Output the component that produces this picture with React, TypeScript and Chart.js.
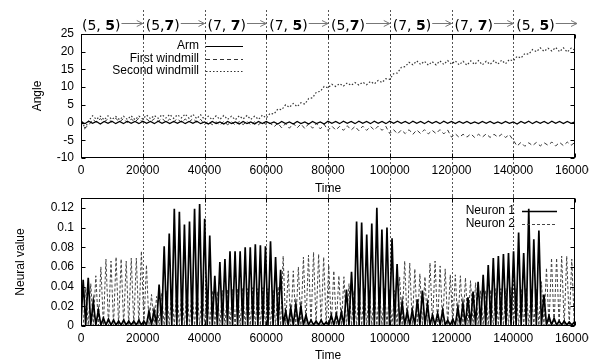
import React, { useEffect, useRef } from "react";
import { Chart, registerables } from "chart.js";
Chart.register(...registerables);

// ---------- Top panel: angles (sampled every TIME_STEP) ----------
const TIME_STEP = 1250;
const ARM = [
  0.2, -0.3, 0.4, -0.2, 0.3, -0.4, 0.3, -0.2, 0.4, -0.3, 0.3, -0.3, 0.4, -0.2, 0.3, -0.3,
  0.4, -0.2, 0.3, -0.3, 0.4, -0.2, 0.3, -0.3, 0.3, -0.2, 0.4, -0.3, 0.3, -0.2, 0.4, -0.3,
  0.2, -0.4, 0.3, -0.3, 0.2, -0.4, 0.3, -0.3, 0.2, -0.4, 0.3, -0.3, 0.2, -0.4, 0.3, -0.3,
  0.3, -0.3, 0.2, -0.4, 0.3, -0.3, 0.2, -0.4, 0.3, -0.3, 0.2, -0.4, 0.3, -0.3, 0.2, -0.4,
  0.4, -0.2, 0.3, -0.3, 0.4, -0.2, 0.3, -0.3, 0.4, -0.2, 0.3, -0.3, 0.4, -0.2, 0.3, -0.3,
  0.4, -0.2, 0.4, -0.2, 0.3, -0.3, 0.4, -0.2, 0.3, -0.3, 0.4, -0.2, 0.3, -0.3, 0.4, -0.2,
  0.3, -0.3, 0.3, -0.2, 0.3, -0.3, 0.2, -0.3, 0.3, -0.2, 0.3, -0.3, 0.2, -0.3, 0.3, -0.2,
  0.2, -0.4, 0.3, -0.2, 0.4, -0.3, 0.3, -0.2, 0.3, -0.3, 0.4, -0.2, 0.3, -0.3, 0.3, -0.2,
  0.2,
];
const FIRST_WINDMILL = [
  0.5, -1.5, -0.8, 0.9, 0.1, 1.1, 0.2, 1.0, 0.1, 1.2, 0.2, 1.1, 0.0, 1.0, 0.2, 1.2,
  0.1, 1.0, 0.2, 1.1, 0.3, 1.2, 0.1, 1.0, 0.2, 1.1, 0.0, 1.0, 0.2, 1.1, 0.1, 0.9,
  -0.5, 0.3, -0.6, 0.2, -0.7, 0.3, -0.6, 0.2, -0.7, 0.3, -0.6, 0.4, -0.7, 0.2, -0.6, 0.3,
  -0.6, -0.1, -1.2, -0.2, -1.5, -0.3, -1.6, -0.2, -1.5, -0.4, -1.7, -0.3, -1.6, -0.2, -1.8, -0.5,
  -2.2, -1.0, -2.1, -1.1, -2.2, -0.9, -2.1, -1.1, -2.3, -1.0, -2.2, -1.1, -2.1, -1.0, -2.2, -1.1,
  -3.1, -2.0, -3.2, -2.1, -3.1, -2.0, -3.3, -2.1, -3.1, -2.0, -3.2, -2.2, -3.1, -2.0, -3.2, -2.1,
  -4.1, -3.2, -4.2, -3.3, -4.1, -3.2, -4.2, -3.3, -4.1, -3.2, -4.2, -3.3, -4.1, -3.3, -4.2, -3.4,
  -5.0, -6.6, -5.6, -6.7, -5.7, -6.5, -5.6, -6.6, -5.7, -6.4, -5.5, -6.6, -5.6, -6.5, -5.5, -6.4,
  -5.6,
];
const SECOND_WINDMILL = [
  1.2, -1.6, 0.5, 1.9, 0.9, 1.8, 0.8, 1.9, 0.9, 1.7, 0.8, 1.8, 0.9, 1.9, 0.8, 1.8,
  1.0, 2.1, 1.1, 2.0, 1.2, 2.2, 1.3, 2.3, 1.2, 2.2, 1.3, 2.4, 1.2, 2.3, 1.1, 2.2,
  0.9, 1.8, 0.8, 1.9, 0.9, 2.0, 0.9, 1.8, 0.8, 1.9, 1.0, 2.0, 0.9, 1.8, 0.9, 2.1,
  1.3, 2.6, 2.4, 3.8, 3.6, 5.0, 4.3, 5.4, 4.5, 5.6, 5.2, 6.8, 7.0, 8.6, 8.8, 10.2,
  9.8, 10.8, 10.2, 11.0, 10.3, 11.2, 10.5, 11.3, 10.6, 11.4, 10.7, 11.6, 10.9, 11.9, 11.3, 12.4,
  12.2, 13.8, 14.0, 15.6, 15.8, 17.0, 16.3, 17.4, 16.4, 17.3, 16.2, 17.2, 16.3, 17.4, 16.4, 17.5,
  16.5, 17.4, 16.3, 17.3, 16.2, 17.4, 16.4, 17.5, 16.3, 17.3, 16.4, 17.5, 16.5, 17.6, 16.6, 17.8,
  17.4, 18.7, 18.2, 19.5, 19.3, 20.6, 20.0, 21.1, 20.1, 21.0, 20.2, 21.2, 20.0, 21.1, 19.9, 21.0,
  20.4,
];

// phase boundaries and labels shown above the top panel
const PHASE_BOUNDARIES = [20000, 40000, 60000, 80000, 100000, 120000, 140000];
const PHASE_LABELS: [string, string, string][] = [
  ["5", ", ", "5"], ["5", ",", "7"], ["7", ", ", "7"], ["7", ", ", "5"],
  ["5", ",", "7"], ["7", ", ", "5"], ["7", ", ", "7"], ["5", ", ", "5"],
];

// ---------- Bottom panel: neural spikes ----------
const SPIKE_T0 = 700;
const SPIKE_PERIOD = 1640;
const NEURON1_PEAKS = [
  0.047, 0.049, 0.025, 0.016, 0.008, 0.007, 0.006, 0.005, 0.006, 0.005,
  0.005, 0.006, 0.005, 0.015, 0.016, 0.042, 0.081, 0.094, 0.119, 0.116,
  0.103, 0.106, 0.119, 0.124, 0.109, 0.092, 0.051, 0.065, 0.068, 0.076,
  0.076, 0.076, 0.080, 0.080, 0.083, 0.082, 0.081, 0.086, 0.070, 0.057,
  0.015, 0.018, 0.022, 0.020, 0.011, 0.006, 0.005, 0.006, 0.004, 0.011,
  0.012, 0.014, 0.037, 0.055, 0.106, 0.105, 0.093, 0.104, 0.120, 0.098,
  0.100, 0.089, 0.063, 0.024, 0.015, 0.016, 0.027, 0.036, 0.022, 0.011,
  0.013, 0.016, 0.006, 0.007, 0.019, 0.023, 0.029, 0.035, 0.045, 0.052,
  0.062, 0.069, 0.071, 0.073, 0.074, 0.076, 0.095, 0.074, 0.119, 0.088,
  0.097, 0.032, 0.010, 0.008, 0.005, 0.005, 0.004, 0.004,
];
const NEURON2_PEAKS = [
  0.039, 0.043, 0.051, 0.060, 0.068, 0.066, 0.070, 0.068, 0.066, 0.069,
  0.069, 0.076, 0.062, 0.032, 0.030, 0.033, 0.036, 0.037, 0.038, 0.037,
  0.038, 0.037, 0.038, 0.038, 0.037, 0.036, 0.035, 0.036, 0.037, 0.037,
  0.038, 0.038, 0.038, 0.039, 0.038, 0.039, 0.038, 0.037, 0.040, 0.071,
  0.056, 0.056, 0.060, 0.070, 0.072, 0.075, 0.073, 0.070, 0.062, 0.056,
  0.051, 0.050, 0.043, 0.036, 0.038, 0.038, 0.037, 0.038, 0.039, 0.038,
  0.037, 0.036, 0.050, 0.066, 0.064, 0.058, 0.053, 0.050, 0.064, 0.066,
  0.061, 0.058, 0.052, 0.052, 0.051, 0.049, 0.046, 0.044, 0.036, 0.036,
  0.037, 0.038, 0.038, 0.038, 0.039, 0.038, 0.038, 0.039, 0.038, 0.037,
  0.045, 0.059, 0.069, 0.069, 0.071, 0.071, 0.068, 0.066,
];
const NEURON1_FLOOR = 0.001;
const NEURON2_FLOOR = 0.0005;

const FONT = "'Liberation Sans', Arial, Helvetica, sans-serif";
Chart.defaults.font.family = FONT;
Chart.defaults.font.size = 12;
Chart.defaults.color = "#000";

const STYLE = {
  arm: { color: "#000", width: 1.2, dash: [] as number[] },
  first: { color: "#333", width: 1, dash: [4, 3] },
  second: { color: "#333", width: 1.2, dash: [1.5, 2] },
  n1: { color: "#000", width: 1.7, dash: [] as number[] },
  n2: { color: "#444", width: 1, dash: [3, 2] },
};

function drawFrame(chart: any, tickLen: number) {
  const { ctx, chartArea: a, scales } = chart;
  ctx.save();
  ctx.strokeStyle = "#000";
  ctx.lineWidth = 1;
  ctx.setLineDash([]);
  const L = Math.round(a.left) + 0.5, R = Math.round(a.right) - 0.5;
  const T = Math.round(a.top) + 0.5, B = Math.round(a.bottom) - 0.5;
  ctx.strokeRect(L, T, R - L, B - T);
  ctx.beginPath();
  for (const t of scales.x.ticks) {
    const px = Math.round(scales.x.getPixelForValue(t.value)) + 0.5;
    ctx.moveTo(px, B); ctx.lineTo(px, B - tickLen);
    ctx.moveTo(px, T); ctx.lineTo(px, T + tickLen);
  }
  for (const t of scales.y.ticks) {
    const py = Math.round(scales.y.getPixelForValue(t.value)) + 0.5;
    ctx.moveTo(L, py); ctx.lineTo(L + tickLen, py);
    ctx.moveTo(R, py); ctx.lineTo(R - tickLen, py);
  }
  ctx.stroke();
  ctx.restore();
}

function drawPhaseLines(chart: any, y0: number, y1: number) {
  const { ctx, scales } = chart;
  ctx.save();
  ctx.strokeStyle = "#555";
  ctx.lineWidth = 1;
  ctx.setLineDash([2, 2]);
  ctx.beginPath();
  for (const b of PHASE_BOUNDARIES) {
    const px = Math.round(scales.x.getPixelForValue(b)) + 0.5;
    ctx.moveTo(px, y0); ctx.lineTo(px, y1);
  }
  ctx.stroke();
  ctx.restore();
}

function drawLegend(chart: any, rightX: number, y0: number, dy: number, items: { label: string; s: any }[], sampleLen: number) {
  const { ctx } = chart;
  ctx.save();
  ctx.font = `12px ${FONT}`;
  ctx.textAlign = "right";
  ctx.textBaseline = "middle";
  items.forEach((it, i) => {
    const y = y0 + i * dy;
    ctx.fillStyle = "#000";
    ctx.fillText(it.label, rightX, y);
    ctx.strokeStyle = it.s.color;
    ctx.lineWidth = it.s.width;
    ctx.setLineDash(it.s.dash);
    ctx.beginPath();
    ctx.moveTo(rightX + 7, Math.round(y) + 0.5);
    ctx.lineTo(rightX + 7 + sampleLen, Math.round(y) + 0.5);
    ctx.stroke();
  });
  ctx.restore();
}

const topPlugin = {
  id: "topDecor",
  beforeDatasetsDraw(chart: any) {
    drawPhaseLines(chart, 10, chart.height);
  },
  afterDatasetsDraw(chart: any) {
    drawFrame(chart, 4);
  },
  afterDraw(chart: any) {
    const { ctx, chartArea: a, scales } = chart;
    drawLegend(chart, a.left + 118, a.top + 12, 12.5, [
      { label: "Arm", s: STYLE.arm },
      { label: "First windmill", s: STYLE.first },
      { label: "Second windmill", s: STYLE.second },
    ], 37);
    // phase annotations
    const normal = "14px 'DejaVu Sans', sans-serif";
    const bold = "bold 14px 'DejaVu Sans', sans-serif";
    const starts = [a.left + 1, ...PHASE_BOUNDARIES.map((b) => scales.x.getPixelForValue(b) + 3)];
    const ends = [...PHASE_BOUNDARIES.map((b) => scales.x.getPixelForValue(b)), scales.x.getPixelForValue(160000) + 2];
    ctx.save();
    ctx.textBaseline = "alphabetic";
    ctx.textAlign = "left";
    PHASE_LABELS.forEach((lab, i) => {
      let cx = starts[i];
      ctx.fillStyle = "#000";
      const p1 = "(" + lab[0] + lab[1];
      ctx.font = normal; ctx.fillText(p1, cx, 30); cx += ctx.measureText(p1).width;
      ctx.font = bold; ctx.fillText(lab[2], cx, 30); cx += ctx.measureText(lab[2]).width;
      ctx.font = normal; ctx.fillText(")", cx, 30); cx += ctx.measureText(")").width;
      const tip = ends[i];
      const y = 23.5;
      ctx.strokeStyle = "#777";
      ctx.lineWidth = 1;
      ctx.setLineDash([]);
      ctx.beginPath();
      ctx.moveTo(cx + 1, y); ctx.lineTo(tip, y);
      ctx.moveTo(tip - 6, y - 3); ctx.lineTo(tip, y); ctx.lineTo(tip - 6, y + 3);
      ctx.stroke();
    });
    ctx.restore();
  },
};

const bottomPlugin = {
  id: "bottomDecor",
  beforeDatasetsDraw(chart: any) {
    drawPhaseLines(chart, 0, chart.chartArea.bottom);
  },
  afterDatasetsDraw(chart: any) {
    drawFrame(chart, 4);
  },
  afterDraw(chart: any) {
    const a = chart.chartArea;
    drawLegend(chart, a.right - 60, a.top + 13, 12.5, [
      { label: "Neuron 1", s: STYLE.n1 },
      { label: "Neuron 2", s: STYLE.n2 },
    ], 35);
  },
};

function lineDs(label: string, data: any[], s: any) {
  return {
    label, data,
    borderColor: s.color, borderWidth: s.width, borderDash: s.dash,
    pointRadius: 0, tension: 0, fill: false,
  };
}

function axisOpts(opts: any) {
  return {
    grid: { display: false, drawTicks: false },
    border: { display: false },
    ...opts,
  };
}

const CANVAS_W = 589;
const RIGHT_PAD = CANVAS_W - 575;

export default function App() {
  const topRef = useRef<HTMLCanvasElement>(null);
  const botRef = useRef<HTMLCanvasElement>(null);

  useEffect(() => {
    const toPts = (arr: number[]) => arr.map((v, i) => ({ x: i * TIME_STEP, y: v }));
    const n1: any[] = [{ x: 0, y: NEURON1_FLOOR }];
    NEURON1_PEAKS.forEach((v, k) => {
      const t = SPIKE_T0 + k * SPIKE_PERIOD;
      n1.push({ x: t, y: v });
      n1.push({ x: t + SPIKE_PERIOD / 2, y: NEURON1_FLOOR });
    });
    const n2: any[] = [{ x: 0, y: NEURON2_FLOOR }];
    NEURON2_PEAKS.forEach((v, j) => {
      const t = SPIKE_T0 + j * SPIKE_PERIOD;
      n2.push({ x: t, y: NEURON2_FLOOR });
      n2.push({ x: t + SPIKE_PERIOD / 2, y: v });
    });

    const xAxis = (height: number, pad: number, titleLH: number) =>
      axisOpts({
        type: "linear", min: 0, max: 160000,
        ticks: { stepSize: 20000, padding: pad, autoSkip: false, maxRotation: 0, callback: (v: any) => String(v) },
        title: { display: true, text: "Time", font: { size: 12, lineHeight: titleLH }, padding: { top: 0, bottom: 0 } },
        afterFit: (s: any) => { s.height = height; s.paddingLeft = 0; s.paddingRight = 0; },
      });

    const top = new Chart(topRef.current!, {
      type: "line",
      data: {
        datasets: [
          lineDs("Arm", toPts(ARM), STYLE.arm),
          lineDs("First windmill", toPts(FIRST_WINDMILL), STYLE.first),
          lineDs("Second windmill", toPts(SECOND_WINDMILL), STYLE.second),
        ],
      },
      options: {
        animation: false, responsive: false,
        layout: { padding: { top: 34, right: RIGHT_PAD, left: 0, bottom: 0 } },
        plugins: { legend: { display: false }, tooltip: { enabled: false } },
        scales: {
          x: xAxis(38, 5, 1.2),
          y: axisOpts({
            min: -10, max: 25,
            ticks: { stepSize: 5, padding: 7, callback: (v: any) => String(v) },
            title: { display: true, text: "Angle", padding: { top: 30, bottom: 0 } },
            afterFit: (s: any) => { s.width = 81; s.paddingTop = 0; s.paddingBottom = 0; },
          }),
        },
      } as any,
      plugins: [topPlugin],
    });

    const bottom = new Chart(botRef.current!, {
      type: "line",
      data: {
        datasets: [
          lineDs("Neuron 1", n1, STYLE.n1),
          lineDs("Neuron 2", n2, STYLE.n2),
        ],
      },
      options: {
        animation: false, responsive: false,
        layout: { padding: { top: 2, right: RIGHT_PAD, left: 0, bottom: 0 } },
        plugins: { legend: { display: false }, tooltip: { enabled: false } },
        scales: {
          x: xAxis(36, 5, 1),
          y: axisOpts({
            min: 0, max: 0.13,
            ticks: { stepSize: 0.02, padding: 7, includeBounds: false, callback: (v: any) => String(Math.round(v * 100) / 100) },
            title: { display: true, text: "Neural value", padding: { top: 13, bottom: 0 } },
            afterFit: (s: any) => { s.width = 81; s.paddingTop = 0; s.paddingBottom = 0; },
          }),
        },
      } as any,
      plugins: [bottomPlugin],
    });

    return () => { top.destroy(); bottom.destroy(); };
  }, []);

  return (
    <div style={{ position: "fixed", left: 0, top: 0, width: 602, height: 362, background: "#fff", overflow: "hidden" }}>
      <canvas ref={topRef} width={CANVAS_W} height={196} style={{ position: "absolute", left: 0, top: 0, display: "block" }} />
      <canvas ref={botRef} width={CANVAS_W} height={166} style={{ position: "absolute", left: 0, top: 196, display: "block" }} />
    </div>
  );
}
